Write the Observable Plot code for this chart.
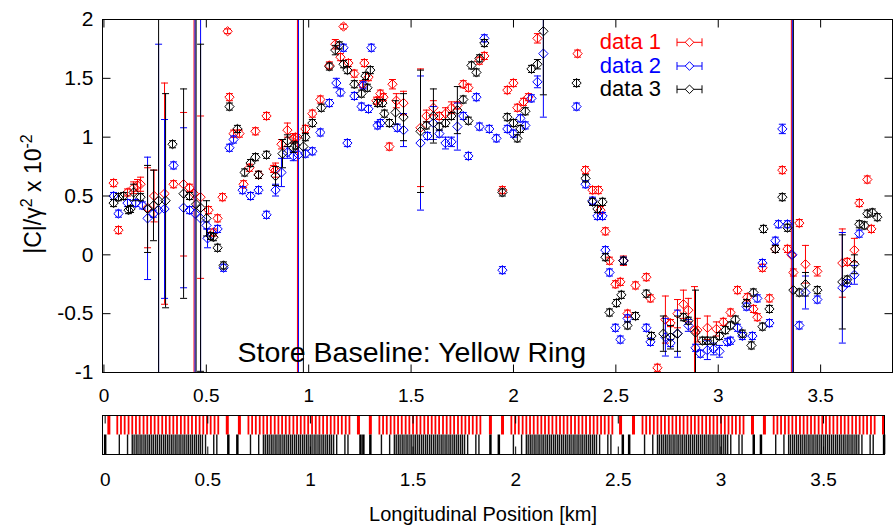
<!DOCTYPE html>
<html><head><meta charset="utf-8">
<script src="https://cdn.jsdelivr.net/npm/d3@7"></script>
<script src="https://cdn.jsdelivr.net/npm/@observablehq/plot@0.6"></script>
<style>
body{margin:0;background:#fff;}
#chart{width:896px;height:529px;position:relative;font-family:"Liberation Sans",Arial,sans-serif;}
#chart svg{display:block;}
</style></head><body><div id="chart"></div>
<script>
// [position km, |C|/gamma^2 x 1e-2, error]
const data1 = [
[0.047,0.61,0.03],[0.071,0.21,0.03],[0.115,0.53,0.03],[0.145,0.57,0.05],[0.164,0.59,0.05],[0.179,0.60,0.06],
[0.213,0.40,0.34],[0.245,0.50,0.22],[0.296,0.52,0.94],[0.340,0.60,0.03],[0.389,0.60,0.61],[0.418,0.57,0.03],
[0.440,0.52,3],[0.472,0.49,0.69],[0.511,0.38,0.03],[0.535,0.19,0.03],[0.555,0.31,0.03],[0.579,0.49,0.03],
[0.604,1.90,0.02],[0.613,1.34,0.03],[0.633,1.03,0.03],[0.662,1.03,0.03],[0.682,0.60,0.03],[0.711,0.74,0.03],
[0.740,1.05,0.03],[0.755,0.68,0.03],[0.794,1.18,0.03],[0.828,0.73,0.03],[0.838,0.72,0.06],[0.867,0.94,0.04],
[0.896,1.06,0.06],[0.925,0.99,0.04],[0.935,1.00,0.03],[0.945,1.00,3],[0.984,1.07,0.03],[1.018,1.20,0.03],
[1.057,1.32,0.03],[1.101,1.61,0.03],[1.130,1.79,0.04],[1.155,1.68,0.03],[1.170,1.94,0.02],[1.194,1.63,0.03],
[1.223,1.54,0.03],[1.263,1.45,0.03],[1.272,1.63,0.03],[1.292,1.51,0.03],[1.331,1.31,0.03],[1.350,1.37,0.03],
[1.365,1.34,0.03],[1.394,0.92,0.03],[1.409,1.45,0.04],[1.428,1.31,0.06],[1.463,1.29,0.10],[1.546,1.08,0.50],
[1.575,1.18,0.05],[1.609,1.25,0.06],[1.638,1.18,0.03],[1.668,1.20,0.05],[1.697,1.25,0.05],[1.726,1.27,0.03],
[1.755,1.45,0.03],[1.780,1.42,0.03],[1.834,1.65,0.03],[1.858,1.69,0.03],[1.946,0.55,0.03],[1.970,1.40,0.03],
[2.000,1.46,0.03],[2.019,1.25,0.03],[2.049,1.30,0.03],[2.073,1.34,0.03],[2.117,1.84,0.04],[2.313,1.71,0.03],
[2.352,0.72,0.03],[2.386,0.55,0.03],[2.415,0.55,0.03],[2.425,0.38,0.03],[2.449,0.20,0.03],[2.469,-0.05,0.03],
[2.498,-0.25,0.03],[2.522,-0.23,0.03],[2.537,-0.05,0.04],[2.557,-0.50,0.03],[2.596,-0.26,0.03],[2.649,-0.19,0.03],
[2.669,-0.37,0.03],[2.703,-0.96,0.03],[2.742,-0.55,0.20],[2.767,-0.58,0.03],[2.801,-0.50,0.12],[2.830,-0.42,0.12],
[2.854,-0.47,0.10],[2.884,-0.64,0.37],[2.898,-0.64,0.10],[2.947,-0.62,0.10],[2.991,-0.63,0.06],[3.025,-0.57,0.03],
[3.060,-0.49,0.03],[3.094,-0.30,0.03],[3.142,-0.36,0.03],[3.172,-0.46,0.03],[3.191,-0.53,0.03],[3.216,-0.11,0.03],
[3.250,-0.37,0.03],[3.279,0.05,0.03],[3.313,0.72,0.03],[3.338,0.05,0.03],[3.357,0.00,3],[3.367,-0.15,0.03],
[3.396,0.27,0.03],[3.426,-0.08,0.16],[3.484,-0.14,0.04],[3.606,-0.07,0.29],[3.630,-0.06,0.03],[3.665,0.04,0.10],
[3.689,0.44,0.03],[3.728,0.64,0.03],[3.748,0.22,0.03]
];
const data2 = [
[0.047,0.50,0.03],[0.071,0.35,0.03],[0.115,0.44,0.03],[0.155,0.44,0.03],[0.188,0.42,0.03],[0.213,0.31,0.52],
[0.242,0.35,0.03],[0.267,0.38,1.41],[0.296,0.39,0.76],[0.340,0.76,0.03],[0.389,0.40,0.68],[0.418,0.38,0.03],
[0.445,0.35,3],[0.472,0.31,2.5],[0.501,0.25,0.03],[0.506,0.14,0.08],[0.555,0.22,0.03],[0.584,-0.11,0.03],
[0.613,0.91,0.03],[0.633,0.98,0.03],[0.677,0.55,0.03],[0.716,0.50,0.03],[0.755,0.55,0.03],[0.794,0.34,0.03],
[0.838,0.55,0.05],[0.867,0.70,0.12],[0.896,0.87,0.05],[0.925,0.84,0.04],[0.950,0.85,3],[0.984,0.86,0.03],
[1.018,0.88,0.03],[1.057,1.04,0.03],[1.101,1.29,0.03],[1.135,1.46,0.04],[1.155,1.38,0.03],[1.170,1.76,0.03],
[1.189,0.95,0.03],[1.223,1.35,0.03],[1.258,1.26,0.03],[1.267,1.44,0.03],[1.292,1.24,0.03],[1.306,1.76,0.03],
[1.336,1.10,0.03],[1.350,1.12,0.03],[1.433,1.08,0.03],[1.463,1.06,0.14],[1.546,0.95,0.57],[1.580,1.01,0.03],
[1.609,1.12,0.14],[1.638,1.03,0.03],[1.668,0.95,0.05],[1.697,0.96,0.04],[1.726,1.09,0.20],[1.755,1.18,0.03],
[1.780,0.84,0.03],[1.819,1.34,0.03],[1.834,1.09,0.03],[1.858,1.84,0.03],[1.882,1.07,0.03],[1.917,0.99,0.03],
[1.946,-0.13,0.03],[1.970,1.07,0.03],[2.000,1.03,0.03],[2.034,1.16,0.03],[2.058,1.10,0.03],[2.088,1.33,0.03],
[2.117,1.47,0.05],[2.146,1.71,0.54],[2.308,1.26,0.03],[2.352,0.60,0.03],[2.386,0.46,0.03],[2.410,0.33,0.03],
[2.435,0.33,0.03],[2.449,0.04,0.03],[2.469,-0.15,0.03],[2.498,-0.62,0.03],[2.522,-0.72,0.03],[2.537,-0.05,0.03],
[2.557,-0.54,0.03],[2.649,-0.62,0.03],[2.669,-0.74,0.03],[2.742,-0.70,0.16],[2.767,-0.75,0.03],[2.801,-0.67,0.20],
[2.854,-0.60,0.05],[2.889,-0.79,0.03],[2.913,-0.84,0.03],[2.947,-0.81,0.08],[2.977,-0.80,0.05],[3.006,-0.82,0.05],
[3.045,-0.74,0.03],[3.060,-0.73,0.03],[3.094,-0.62,0.03],[3.118,-0.69,0.03],[3.138,-0.44,0.03],[3.167,-0.69,0.03],
[3.191,-0.37,0.03],[3.216,-0.07,0.03],[3.250,-0.58,0.03],[3.279,0.12,0.03],[3.294,0.26,0.03],[3.313,1.07,0.04],
[3.338,0.26,0.03],[3.362,0.00,3],[3.396,-0.60,0.03],[3.426,-0.32,0.14],[3.484,-0.38,0.03],[3.606,-0.28,0.47],
[3.630,-0.24,0.03],[3.665,-0.17,0.08],[3.689,0.18,0.03]
];
const data3 = [
[0.047,0.44,0.03],[0.071,0.49,0.03],[0.096,0.50,0.03],[0.120,0.38,0.03],[0.130,0.39,0.03],[0.145,0.53,0.07],
[0.179,0.49,0.03],[0.213,0.39,0.37],[0.242,0.42,0.30],[0.267,0.46,3],[0.301,0.46,0.91],[0.335,0.94,0.03],
[0.389,0.52,0.89],[0.418,0.50,0.03],[0.450,0.43,3],[0.472,0.40,1.39],[0.501,0.31,0.15],[0.521,0.16,0.03],
[0.535,0.15,0.03],[0.555,0.06,0.03],[0.584,-0.09,0.03],[0.613,1.26,0.03],[0.652,1.07,0.03],[0.687,0.70,0.03],
[0.716,0.78,0.03],[0.740,0.83,0.03],[0.755,0.68,0.03],[0.794,0.85,0.03],[0.838,0.67,0.08],[0.872,0.86,0.12],
[0.896,0.97,0.05],[0.925,0.91,0.04],[0.935,0.93,0.03],[0.974,0.92,3],[0.984,1.00,0.03],[1.018,1.12,0.03],
[1.062,1.25,0.03],[1.101,1.60,0.03],[1.130,1.74,0.04],[1.150,1.78,0.03],[1.170,1.62,0.03],[1.189,1.57,0.03],
[1.223,1.45,0.03],[1.258,1.37,0.03],[1.277,1.52,0.03],[1.287,1.42,0.03],[1.301,1.57,0.03],[1.336,1.29,0.03],
[1.360,1.29,0.03],[1.370,1.20,0.03],[1.394,1.12,0.03],[1.424,1.21,0.10],[1.463,1.17,0.20],[1.546,1.05,0.52],
[1.575,1.10,0.03],[1.609,1.18,0.23],[1.638,1.09,0.03],[1.668,1.12,0.03],[1.697,1.18,0.03],[1.726,1.23,0.20],
[1.755,1.32,0.03],[1.780,1.14,0.03],[1.795,1.61,0.03],[1.819,1.55,0.03],[1.834,1.67,0.03],[1.858,1.80,0.03],
[1.946,0.53,0.03],[1.970,1.17,0.03],[2.000,1.12,0.03],[2.019,0.99,0.03],[2.034,1.07,0.03],[2.058,1.22,0.03],
[2.088,1.58,0.03],[2.117,1.62,0.04],[2.146,1.90,0.54],[2.308,1.46,0.03],[2.352,0.65,0.03],[2.386,0.45,0.03],
[2.410,0.39,0.03],[2.435,0.45,0.03],[2.449,-0.02,0.03],[2.469,-0.49,0.03],[2.503,-0.41,0.03],[2.527,-0.34,0.03],
[2.537,-0.05,0.03],[2.557,-0.60,0.03],[2.596,-0.52,0.03],[2.649,-0.33,0.03],[2.674,-0.69,0.03],[2.732,-0.67,0.15],
[2.767,-0.70,0.10],[2.801,-0.67,0.15],[2.830,-0.53,0.03],[2.854,-0.56,0.03],[2.889,-0.66,0.36],[2.923,-0.73,0.03],
[2.947,-0.73,0.03],[2.977,-0.73,0.03],[3.006,-0.69,0.03],[3.035,-0.64,0.03],[3.060,-0.60,0.03],[3.084,-0.55,0.03],
[3.118,-0.67,0.03],[3.138,-0.41,0.03],[3.162,-0.77,0.03],[3.172,-0.32,0.03],[3.216,-0.61,0.03],[3.221,0.22,0.03],
[3.250,-0.46,0.03],[3.279,0.05,0.03],[3.313,0.49,0.03],[3.338,0.23,0.03],[3.367,-0.30,3],[3.396,-0.32,0.03],
[3.426,-0.25,0.10],[3.484,-0.30,0.03],[3.606,-0.23,0.40],[3.630,-0.21,0.03],[3.665,-0.08,0.08],[3.689,0.26,0.03],
[3.714,0.25,0.03],[3.728,0.35,0.03],[3.753,0.36,0.03],[3.777,0.32,0.03]
];
const seriesNames = ["data 1", "data 2", "data 3"];
const seriesColors = ["#ff0000", "#0000ff", "#000000"];
const xTicks = [0, 0.5, 1, 1.5, 2, 2.5, 3, 3.5];
const yTicks = [-1, -0.5, 0, 0.5, 1, 1.5, 2];
const annotation = "Store Baseline: Yellow Ring";
const xTitle = "Longitudinal Position [km]";

// lattice strip (km)
const arcStarts = [0.059, 0.698, 1.336, 1.979, 2.618, 3.257];
const dipoleOffsets = [0,0.018,0.036,0.055,0.073,0.091,0.109,0.128,0.146,0.164,0.182,0.200,0.219,0.237,
  0.255,0.273,0.291,0.310,0.328,0.346,0.364,0.383,0.401,0.419,0.437,0.455,0.474,0.492];
const insertionDipoles = [0.018,0.595,0.654,1.234,1.292,1.877,1.936,2.511,2.574,3.154,3.212,3.792];
const quadOffsets = [0.010,0.050,0.073,0.082,0.092,0.101,0.111,0.120,0.130,0.139,0.149,0.158,0.168,0.177,
  0.187,0.196,0.206,0.215,0.225,0.234,0.244,0.253,0.263,0.272,0.282,0.291,0.301,0.310,0.320,0.329,0.339,
  0.348,0.358,0.367,0.377,0.386,0.396,0.405,0.415,0.430,0.470,0.485];
const insertionQuads = [0.0,0.600,0.644,1.244,1.258,1.292,1.877,1.918,2.522,2.553,3.160,3.195,3.795];

const XD = [-0.007, 3.851], YD = [-1, 2];
const font = '"Liberation Sans", Arial, sans-serif';

const capSym = {draw(c){ c.moveTo(-3.5,0); c.lineTo(3.5,0); }};
const tUp = {draw(c){ c.moveTo(0,0); c.lineTo(0,-8); }};
const tDown = {draw(c){ c.moveTo(0,0); c.lineTo(0,8); }};
const tRight = {draw(c){ c.moveTo(0,0); c.lineTo(8,0); }};
const tLeft = {draw(c){ c.moveTo(0,0); c.lineTo(-8,0); }};

function rows(arr) {
  return arr.map(([x, y, e]) => ({x, y, lo: Math.max(YD[0], y - e), hi: Math.min(YD[1], y + e),
    loIn: y - e >= YD[0], hiIn: y + e <= YD[1]}));
}
const series = [data1, data2, data3].map(rows);

const seriesMarks = series.flatMap((rs, i) => {
  const col = seriesColors[i];
  return [
    Plot.ruleX(rs, {x: "x", y1: "lo", y2: "hi", stroke: col, strokeWidth: 1}),
    Plot.dot(rs.filter(d => d.hiIn), {x: "x", y: "hi", symbol: capSym, stroke: col, fill: "none", strokeWidth: 1}),
    Plot.dot(rs.filter(d => d.loIn), {x: "x", y: "lo", symbol: capSym, stroke: col, fill: "none", strokeWidth: 1}),
    Plot.dot(rs, {x: "x", y: "y", symbol: "diamond2", r: 4.2, stroke: col, fill: "none", strokeWidth: 1})
  ];
});

const main = Plot.plot({
  width: 896, height: 400,
  marginLeft: 102, marginRight: 4, marginTop: 19, marginBottom: 28,
  style: {fontFamily: font, background: "#fff", overflow: "visible"},
  x: {domain: XD, axis: null},
  y: {domain: YD, axis: null},
  marks: [
    ...seriesMarks,
    Plot.dot(xTicks, {x: d => d, y: YD[0], symbol: tUp, stroke: "black", strokeWidth: 1}),
    Plot.dot(xTicks, {x: d => d, y: YD[1], symbol: tDown, stroke: "black", strokeWidth: 1}),
    Plot.dot(yTicks, {x: XD[0], y: d => d, symbol: tRight, stroke: "black", strokeWidth: 1}),
    Plot.dot(yTicks, {x: XD[1], y: d => d, symbol: tLeft, stroke: "black", strokeWidth: 1}),
    Plot.frame({stroke: "black", strokeWidth: 1}),
    Plot.text(yTicks, {x: XD[0], y: d => d, text: d => String(d), textAnchor: "end", dx: -9, fontSize: 21, ariaLabel: "yticklab"}),
    Plot.text(xTicks, {x: d => d, y: YD[0], text: d => String(d), dy: 29, lineAnchor: "bottom", fontSize: 19, ariaLabel: "xticklab"}),
    Plot.text([annotation], {frameAnchor: "bottom-left", text: d => d, textAnchor: "start", lineAnchor: "bottom", dx: 135, dy: -11, fontSize: 28.5})
  ]
});

const dipoles = arcStarts.flatMap(s => dipoleOffsets.map(o => s + o));
const quads = arcStarts.flatMap(s => quadOffsets.map(o => s + o));
const SXD = [-0.013, 3.797];
const strip = Plot.plot({
  width: 896, height: 129,
  marginLeft: 102, marginRight: 12, marginTop: 15, marginBottom: 75,
  style: {fontFamily: font, background: "#fff"},
  x: {domain: SXD, axis: null},
  y: {domain: [0, 2], axis: null},
  marks: [
    Plot.ruleX(dipoles, {x: d => d, y1: 1, y2: 2, stroke: "#ff0000", strokeWidth: 1.8}),
    Plot.ruleX(insertionDipoles, {x: d => d, y1: 1, y2: 2, stroke: "#ff0000", strokeWidth: 3}),
    Plot.ruleX(quads, {x: d => d, y1: 0, y2: 1, stroke: "#111", strokeWidth: 1.4}),
    Plot.ruleX(insertionQuads, {x: d => d, y1: 0, y2: 1, stroke: "#000", strokeWidth: 2.5}),
    Plot.dot(xTicks, {x: d => d, y: 0, symbol: tUp, stroke: "black", strokeWidth: 1}),
    Plot.dot(xTicks, {x: d => d, y: 2, symbol: tDown, stroke: "black", strokeWidth: 1}),
    Plot.frame({stroke: "black", strokeWidth: 1}),
    Plot.text(xTicks, {x: d => d, y: 0, text: d => String(d), dy: 31, lineAnchor: "bottom", fontSize: 19, ariaLabel: "xticklab"}),
    Plot.text([xTitle], {frameAnchor: "bottom", text: d => d, dx: -10.5, dy: 66, lineAnchor: "bottom", fontSize: 20})
  ]
});

function stretch(svg, label, s) {
  svg.querySelectorAll(`g[aria-label="${label}"] text`).forEach(t => {
    const tr = t.getAttribute("transform");
    if (tr) t.setAttribute("transform", tr + ` scale(${s},1)`);
    else {
      const x = +t.getAttribute("x") || 0, y = +t.getAttribute("y") || 0;
      t.removeAttribute("x"); t.removeAttribute("y");
      t.setAttribute("transform", `translate(${x},${y}) scale(${s},1)`);
    }
  });
}
stretch(main, "yticklab", 1.33);
stretch(main, "xticklab", 1.28);
stretch(strip, "xticklab", 1.28);

// legend and y title
const g = d3.select(main);
seriesNames.forEach((name, i) => {
  const cy = [42.3, 66, 89.3][i];
  const col = seriesColors[i];
  g.append("text").attr("x", 661).attr("y", cy + 7).attr("text-anchor", "end")
    .attr("font-size", 22).attr("fill", col).attr("font-family", font).text(name);
  const lg = g.append("g").attr("stroke", col).attr("fill", "none").attr("stroke-width", 1);
  lg.append("line").attr("x1", 677).attr("x2", 702).attr("y1", cy).attr("y2", cy);
  lg.append("line").attr("x1", 677).attr("x2", 677).attr("y1", cy - 4).attr("y2", cy + 4);
  lg.append("line").attr("x1", 702).attr("x2", 702).attr("y1", cy - 4).attr("y2", cy + 4);
  lg.append("path").attr("d", `M689.5,${cy-4.3}L693.8,${cy}L689.5,${cy+4.3}L685.2,${cy}Z`).attr("fill", "#fff");
});
const yt = g.append("text").attr("transform", "translate(41,194) rotate(-90)")
  .attr("text-anchor", "middle").attr("font-size", 23).attr("font-family", font).attr("fill", "black");
yt.append("tspan").text("|C|/\u03B3");
yt.append("tspan").attr("font-size", 16).attr("dy", -9).text("2");
yt.append("tspan").attr("dy", 9).text(" x 10");
yt.append("tspan").attr("font-size", 16).attr("dy", -9).text("-2");

const chart = document.getElementById("chart");
chart.appendChild(main);
chart.appendChild(strip);
</script>
</body></html>
